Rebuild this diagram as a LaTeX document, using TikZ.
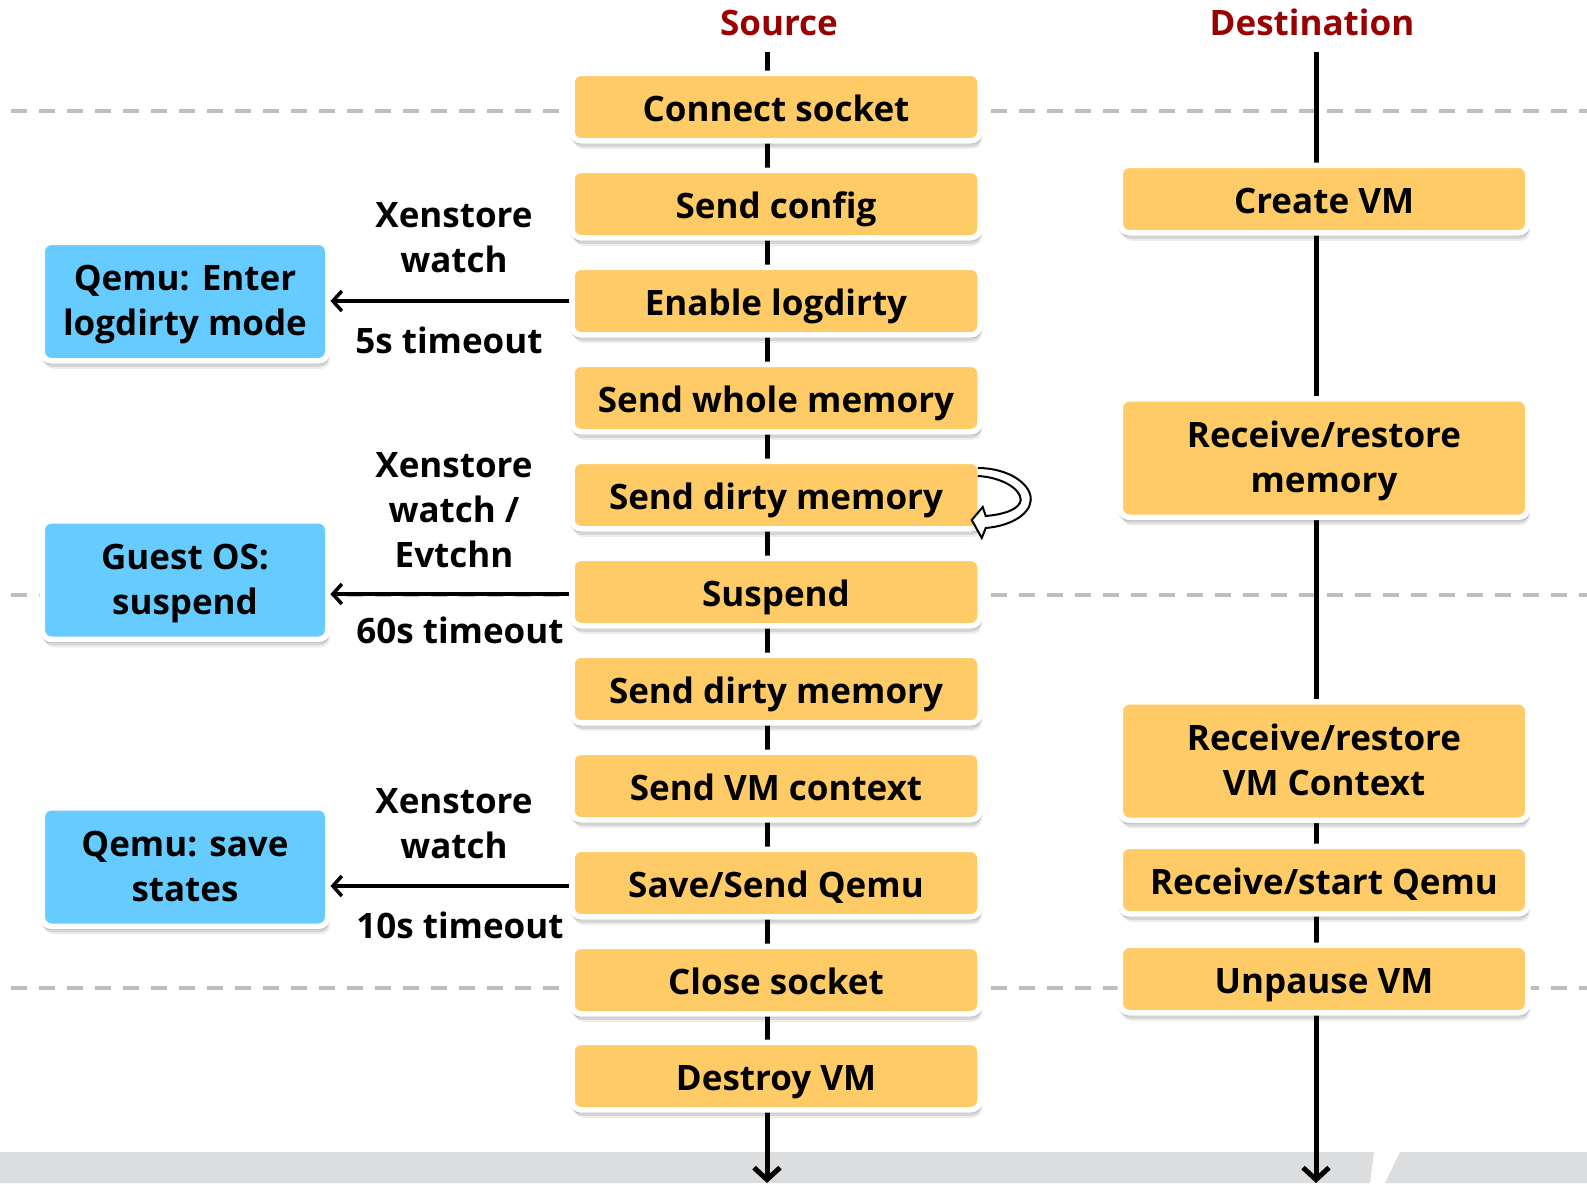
\documentclass[tikz,border=0pt]{standalone}
\usepackage{fontspec}
\setmainfont{Open Sans}
\usetikzlibrary{arrows.meta,shadows}
\definecolor{boxorange}{HTML}{FECB66}
\definecolor{boxblue}{HTML}{66CCFF}
\definecolor{titlered}{HTML}{990000}
\definecolor{dashgray}{HTML}{BEBEBE}
\definecolor{bandgray}{HTML}{DCDDDF}
\tikzset{
  txt/.style={font=\bfseries\fontsize{35}{45}\selectfont},
  softshadow/.style={
    drop shadow={shadow xshift=0pt,shadow yshift=-3pt,shadow scale=1.01,opacity=.10,fill=black},
    drop shadow={shadow xshift=1pt,shadow yshift=-6pt,opacity=.10,fill=black},
    drop shadow={shadow xshift=2pt,shadow yshift=-8pt,opacity=.07,fill=black}},
  stepbox/.style={txt,draw=white,line width=5.5pt,rounded corners=9pt,
    align=center,inner sep=0pt,softshadow},
  onel/.style={text height=32pt,text depth=2.6pt},
  twol/.style={text height=70pt,text depth=2pt},
  srcbox/.style={stepbox,onel,fill=boxorange,minimum width=408pt,minimum height=67.5pt},
  dstbox/.style={stepbox,onel,fill=boxorange,minimum width=407.5pt,minimum height=67.5pt},
  tallbox/.style={stepbox,twol,fill=boxorange,minimum width=407.5pt,minimum height=118.5pt},
  bluebox/.style={stepbox,twol,fill=boxblue,minimum width=285.5pt,minimum height=118.5pt},
  lbl/.style={txt,align=center,anchor=base,inner sep=0pt},
  ttl/.style={txt,text=titlered,anchor=base,inner sep=0pt},
  sideline/.style={line width=3.5pt,-{Straight Barb[length=9pt,width=20pt,line width=3.5pt]}},
  downline/.style={line width=5pt,-{Straight Barb[length=12pt,width=26pt,line width=5pt]}},
  sepline/.style={draw=dashgray,line width=4pt,dash pattern=on 16pt off 12pt}
}
\begin{document}
\begin{tikzpicture}[x=1pt,y=-1pt]
\useasboundingbox (0,0) rectangle (1587,1183);
% bottom band
\fill[bandgray] (0,1152) -- (1374,1152) -- (1370,1183) -- (0,1183) -- cycle;
\fill[bandgray] (1400,1152) -- (1587,1152) -- (1587,1183) -- (1385,1183) -- cycle;
% separators
\draw[sepline] (11,111) -- (1587,111);
\draw[sepline] (11,595) -- (1587,595);
\draw[sepline] (11,988) -- (1587,988);
% titles
\node[ttl] (tsrc) at (779,35) {Source};
\node[ttl] (tdst) at (1312,35) {Destination};
% timelines
\coordinate (stop) at (767,52);
\coordinate (sbot) at (767,1183);
\coordinate (dtop) at (1316,52);
\coordinate (dbot) at (1316,1183);
\draw[downline] (stop) -- (sbot);
\draw[downline] (dtop) -- (dbot);
% source steps
\node[srcbox] (s1) at (776,107) {Connect socket};
\node[srcbox] (s2) at (776,204) {Send config};
\node[srcbox] (s3) at (776,301) {Enable logdirty};
\node[srcbox] (s4) at (776,398) {Send whole memory};
\node[srcbox] (s5) at (776,495) {Send dirty memory};
\node[srcbox] (s6) at (776,592) {Suspend};
\node[srcbox] (s7) at (776,689) {Send dirty memory};
\node[srcbox] (s8) at (776,786) {Send VM context};
\node[srcbox] (s9) at (776,883) {Save/Send Qemu};
\node[srcbox] (s10) at (776,980) {Close socket};
\node[srcbox] (s11) at (776,1076) {Destroy VM};
% destination steps
\node[dstbox] (d1) at (1324,199) {Create VM};
\node[tallbox] (d2) at (1324,458) {Receive/restore\\memory};
\node[tallbox] (d3) at (1324,761) {Receive/restore\\VM Context};
\node[dstbox] (d4) at (1324,880) {Receive/start Qemu};
\node[dstbox] (d5) at (1324,979) {Unpause VM};
% side boxes
\node[bluebox] (b1) at (185,301.5) {Qemu: Enter\\logdirty mode};
\node[bluebox] (b2) at (185,580) {Guest OS:\\suspend};
\node[bluebox] (b3) at (185,867) {Qemu: save\\states};
% side arrows
\draw[sideline] (s3.west) -- (s3.west -| b1.east);
\draw[sideline] ([yshift=-2pt]s6.west) -- ([yshift=-2pt]s6.west -| b2.east);
\draw[sideline] ([yshift=-3pt]s9.west) -- ([yshift=-3pt]s9.west -| b3.east);
% labels (base = baseline of last line)
\node[lbl] (l1) at (454,272.5) {Xenstore\\watch};
\node[lbl] (l2) at (449,353) {5s timeout};
\node[lbl] (l3) at (454,567) {Xenstore\\watch /\\Evtchn};
\node[lbl] (l4) at (460,643) {60s timeout};
\node[lbl] (l5) at (454,858.5) {Xenstore\\watch};
\node[lbl] (l6) at (460,938.5) {10s timeout};
% self loop on s5
\begin{scope}[shift={(s5.east)}]
\fill[white] (-5,-27) .. controls (27,-27) and (49,-10) .. (48,5)
  .. controls (47,20) and (27,31) .. (3,33) -- (-1,43) -- (-11,25) -- (0,12) -- (3,21)
  .. controls (25,19) and (37,13) .. (38,5) .. controls (38,-7) and (17,-18) .. (-5,-19) -- cycle;
\draw[line width=2pt,line join=miter] (-5,-27) .. controls (27,-27) and (49,-10) .. (48,5)
  .. controls (47,20) and (27,31) .. (3,33) -- (-1,43) -- (-11,25) -- (0,12) -- (3,21)
  .. controls (25,19) and (37,13) .. (38,5) .. controls (38,-7) and (17,-18) .. (-5,-19);
\end{scope}
\end{tikzpicture}
\end{document}
